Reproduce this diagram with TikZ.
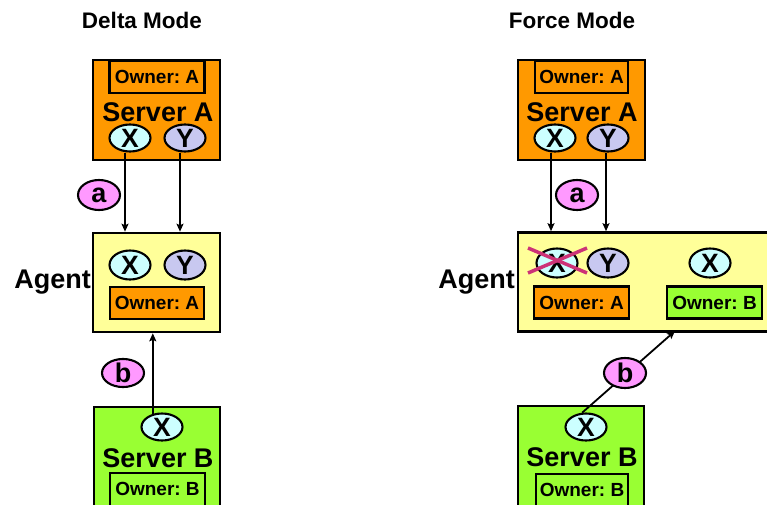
\documentclass[tikz,border=0pt]{standalone}
\usepackage{fontspec}
\setmainfont{Liberation Sans}
\usetikzlibrary{shapes.geometric,arrows.meta}
\definecolor{orangeA}{HTML}{FF9900}
\definecolor{yellowA}{HTML}{FFFF99}
\definecolor{greenB}{HTML}{99FF33}
\definecolor{cyanX}{HTML}{CCFFFF}
\definecolor{lavY}{HTML}{C8C8F0}
\definecolor{pinkL}{HTML}{FF99FF}
\definecolor{crossC}{HTML}{CC3377}
\newcommand{\fsz}[1]{\fontsize{#1}{#1}\selectfont\bfseries\frenchspacing}
\begin{document}
\begin{tikzpicture}[x=1pt,y=-1pt,
  box/.style={draw, line width=2.6pt, inner sep=0pt, rectangle},
  srvA/.style={box, fill=orangeA, minimum width=127pt, minimum height=100pt},
  srvB/.style={box, fill=greenB, minimum width=126pt, minimum height=140pt},
  agentbox/.style={box, fill=yellowA, minimum height=99pt},
  own/.style={draw, line width=2.2pt, minimum width=95pt, minimum height=32pt, inner sep=0pt, font=\fsz{19}},
  ownsub/.style={draw, line width=2.2pt, inner sep=0pt},
  ell/.style={ellipse, draw, line width=2.1pt, inner sep=0pt, minimum width=41pt, minimum height=27pt, font=\fsz{26.5}},
  xe/.style={ell, fill=cyanX},
  ye/.style={ell, fill=lavY},
  lab/.style={ell, fill=pinkL, minimum width=42pt, minimum height=30pt, font=\fsz{27}},
  big/.style={inner sep=0pt, font=\fsz{27}},
  title/.style={inner sep=0pt, font=\fsz{22.5}},
  txt/.style={inner sep=0pt, font=\fsz{19}},
  arr/.style={line width=1.8pt, -{Stealth[length=8pt,width=7pt,inset=1.5pt]}},
  crossline/.style={draw=crossC, line width=3.5pt}
]
\useasboundingbox (0,0) rectangle (767,505);
\clip (0,0) rectangle (767,505);

% ---------------- Delta Mode ----------------
\node[title] (t1) at (142,20) {Delta Mode};

\node[srvA] (sA1) at (156.5,110) {};
\node[own, fill=orangeA] (oA1) at (157,77) {Owner: A};
\node[big] (sAt1) at (158,112) {Server A};
\node[xe] (xA1) at (130,138) {X};
\node[ye] (yA1) at (185,138) {Y};

\node[agentbox, minimum width=127pt] (ag1) at (156.5,282.5) {};
\node[big, anchor=east] (agt1) at (91,282) {Agent};
\node[xe, minimum height=29pt] (ax1) at (130,265) {X};
\node[ye, minimum height=29pt] (ay1) at (185,265) {Y};
\node[own, fill=orangeA, minimum width=94pt] (aoA1) at (157,303) {Owner: A};

\node[srvB] (sB1) at (157,477) {};
\node[xe] (bx1) at (162,427) {X};
\node[big] (sBt1) at (158,458) {Server B};
\node[ownsub, fill=greenB, minimum width=95pt, minimum height=60pt] (oB1) at (157.5,503) {};
\node[txt] (oBt1) at (157.5,489) {Owner: B};

\draw[arr] ([xshift=-5pt]xA1.south) -- ([xshift=-5pt]xA1.south |- ag1.north);
\draw[arr] ([xshift=-5pt]yA1.south) -- ([xshift=-5pt]yA1.south |- ag1.north);
\draw[arr] (bx1.125) -- (bx1.125 |- ag1.south);

\node[lab] (la1) at (99,195) {a};
\node[lab, minimum height=28pt] (lb1) at (123,373) {b};

% ---------------- Force Mode ----------------
\node[title] (t2) at (572,20) {Force Mode};

\node[srvA] (sA2) at (581.5,110) {};
\node[own, fill=orangeA, minimum width=93pt] (oA2) at (581.5,77) {Owner: A};
\node[big] (sAt2) at (582,112) {Server A};
\node[xe] (xA2) at (555,138) {X};
\node[ye] (yA2) at (608,138) {Y};

\node[agentbox, minimum width=282pt] (ag2) at (659,282) {};
\node[big, anchor=east] (agt2) at (515,282) {Agent};
\node[xe, minimum height=29pt] (ax2) at (557,263) {X};
\node[ye, minimum height=29pt] (ay2) at (608,263) {Y};
\node[xe, minimum height=29pt] (bxa2) at (710,263) {X};
\node[own, fill=orangeA] (aoA2) at (581.5,302.5) {Owner: A};
\node[own, fill=greenB] (aoB2) at (714.5,302.5) {Owner: B};
\coordinate (c1) at (528,248);
\coordinate (c2) at (587,273);
\coordinate (c3) at (528,273);
\coordinate (c4) at (587,248);
\draw[crossline] (c1) -- (c2);
\draw[crossline] (c3) -- (c4);

\node[srvB] (sB2) at (581,476) {};
\node[xe] (bx2) at (586,427) {X};
\node[big] (sBt2) at (582,457) {Server B};
\node[ownsub, fill=greenB, minimum width=92pt, minimum height=60pt] (oB2) at (582,504) {};
\node[txt] (oBt2) at (582,490) {Owner: B};

\coordinate (tipb2) at (675,331);
\draw[arr] ([xshift=-4pt]xA2.south) -- ([xshift=-4pt]xA2.south |- ag2.north);
\draw[arr] ([xshift=-2pt]yA2.south) -- ([xshift=-2pt]yA2.south |- ag2.north);
\draw[arr] (bx2.105) -- (tipb2);

\node[lab] (la2) at (577,195) {a};
\node[lab] (lb2) at (625,373) {b};
\end{tikzpicture}
\end{document}
